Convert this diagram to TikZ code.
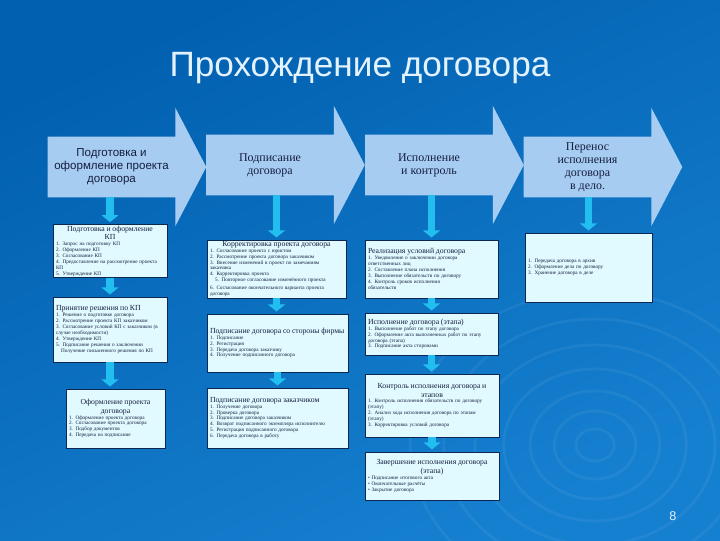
\documentclass[tikz,border=0pt]{standalone}
\usepackage{fontspec}
\setmainfont{Liberation Serif}
\newfontfamily\arialfont{Liberation Sans}
\usetikzlibrary{arrows.meta, calc, backgrounds}
\definecolor{bgtop}{RGB}{2, 96, 176}
\definecolor{bgbottom}{RGB}{22, 128, 208}
\definecolor{chevfill}{RGB}{166, 204, 242}
\definecolor{boxfill}{RGB}{224, 250, 255}
\definecolor{boxline}{RGB}{12, 40, 82}
\definecolor{linkcyan}{RGB}{34, 190, 240}
\definecolor{textdark}{RGB}{22, 30, 62}
\definecolor{titlewhite}{RGB}{226, 242, 255}
\newlength\pxu
\setlength\pxu{0.025cm}
\newcommand{\boxhead}[1]{{\fontsize{5.5}{6.2}\selectfont #1\par}}
\newcommand{\boxheadc}[1]{{\fontsize{5.5}{6.2}\selectfont\centering #1\par}}

\begin{document}
\begin{tikzpicture}[x=0.025cm, y=-0.025cm,
    chev/.style={minimum width=127\pxu, minimum height=60\pxu, inner sep=0pt, align=center, text=textdark, font=\fontsize{8.5}{9.3}\selectfont},
    box/.style 2 args={draw=boxline, fill=boxfill, line width=0.6pt, inner xsep=3\pxu, inner ysep=1\pxu, text width=#1\pxu, minimum height=#2\pxu, align=left, text=textdark, font=\fontsize{3.7}{4.2}\selectfont},
    link/.style={draw=linkcyan, line width=5.5pt, -{Triangle[width=12pt,length=5pt]}, shorten >=1.5pt},
    ripple/.style={draw=white, opacity=0.055, line width=2pt}
]
\useasboundingbox (0,0) rectangle (720,540);
\begin{scope}[on background layer]
  \shade[top color=bgtop, bottom color=bgbottom, shading angle=25] (0,0) rectangle (720,540);
  \foreach \r in {16,34,54,76,100,126,154}
    \draw[ripple] (595,445) ellipse ({1.2*\r} and \r);
\end{scope}

\node (TITLE) at (360,68) [font=\arialfont\fontsize{25}{30}\selectfont, text=titlewhite] {Прохождение договора};

% stages
\node (CH1) at (111.5,167) [chev, font=\arialfont\fontsize{8.2}{9.3}\selectfont] {Подготовка и\\оформление проекта\\договора};
\node (CH2) at (270,165) [chev] {Подписание\\договора};
\node (CH3) at (429,165) [chev] {Исполнение\\и контроль};
\node (CH4) at (587.5,167) [chev] {Перенос\\исполнения\\договора\\в дело.};
\begin{scope}[on background layer]
  \foreach \c in {CH1,CH2,CH3,CH4}
    \fill[chevfill] (\c.north west) -- (\c.north east) -- ++(0,-29) -- ($(\c.east)+(31,0)$) -- ($(\c.south east)+(0,29)$) -- (\c.south east) -- (\c.south west) -- cycle;
\end{scope}

% column 1
\node (A1) at (110,251) [box={108}{52}] {\boxheadc{Подготовка и оформление\\КП}
1. Запрос на подготовку КП\\
2. Оформление КП\\
3. Согласование КП\\
4. Предоставление на рассмотрение проекта\\
КП\\
5. Утверждение КП};
\node (A2) at (110,329.5) [box={108}{65}] {\boxhead{Принятие решения по КП}
1. Решение о подготовке договора\\
2. Рассмотрение проекта КП заказчиком\\
3. Согласование условий КП с заказчиком (в\\
случае необходимости)\\
4. Утверждение КП\\
5. Подписание решения о заключении\\
\hspace*{1em}Получение письменного решения по КП};
\node (A3) at (115.5,418.5) [box={93}{59}] {\boxheadc{Оформление проекта\\договора}
1. Оформление проекта договора\\
2. Согласование проекта договора\\
3. Подбор документов\\
4. Передача на подписание};

% column 2
\node (B1) at (276.5,269) [box={133}{58}] {\boxheadc{Корректировка проекта договора}
1. Согласование проекта с юристом\\
2. Рассмотрение проекта договора заказчиком\\
3. Внесение изменений в проект по замечаниям\\
заказчика\\
4. Корректировка проекта\\
\hspace*{1em}5. Повторное согласование изменённого проекта\\[1.5pt]
6. Согласование окончательного варианта проекта договора};
\node (B2) at (277.5,343) [box={135}{58}] {\boxhead{Подписание договора со стороны фирмы}
1. Подписание\\
2. Регистрация\\
3. Передача договора заказчику\\
4. Получение подписанного договора};
\node (B3) at (277.5,418) [box={135}{60}] {\boxhead{Подписание договора заказчиком}
1. Получение договора\\
2. Проверка договора\\
3. Подписание договора заказчиком\\
4. Возврат подписанного экземпляра исполнителю\\
5. Регистрация подписанного договора\\
6. Передача договора в работу};

% column 3
\node (C1) at (431.5,269) [box={127}{58}] {\boxhead{Реализация условий договора}
1. Уведомление о заключении договора\\
ответственных лиц\\
2. Составление плана исполнения\\
3. Выполнение обязательств по договору\\
4. Контроль сроков исполнения\\
обязательств};
\node (C2) at (431.5,334) [box={127}{42}] {\boxhead{Исполнение договора (этапа)}
1. Выполнение работ по этапу договора\\
2. Оформление акта выполненных работ по этапу\\
договора (этапа)\\
3. Подписание акта сторонами};
\node (C3) at (432,405.5) [box={128}{63}] {\boxheadc{Контроль исполнения договора и\\этапов}
1. Контроль исполнения обязательств по договору\\
(этапу)\\
2. Анализ хода исполнения договора по этапам\\
(этапу)\\
3. Корректировка условий договора};
\node (C4) at (432,476) [box={128}{48}] {\boxheadc{Завершение исполнения договора\\(этапа)}
\textbullet\ Подписание итогового акта\\
\textbullet\ Окончательные расчёты\\
\textbullet\ Закрытие договора};

% column 4
\node (D1) at (588.5,267.5) [box={121}{69}] {1. Передача договора в архив\\
2. Оформление дела по договору\\
3. Хранение договора в деле};

\draw [link] (A1.north |- CH1.south) -- (A1.north);
\draw [link] (B1.north |- CH2.south) -- (B1.north);
\draw [link] (C1.north |- CH3.south) -- (C1.north);
\draw [link] (D1.north |- CH4.south) -- (D1.north);
\draw [link] (A1.south) -- (A1.south |- A2.north);
\draw [link] (A2.south) -- (A2.south |- A3.north);
\draw [link] (B1.south) -- (B1.south |- B2.north);
\draw [link] (B2.south) -- (B2.south |- B3.north);
\draw [link] (C1.south) -- (C1.south |- C2.north);
\draw [link] (C2.south) -- (C2.south |- C3.north);
\draw [link] (C3.south) -- (C3.south |- C4.north);

\node (PAGENO) at (673,516) [font=\arialfont\fontsize{9}{10}\selectfont, text=titlewhite] {8};
\end{tikzpicture}
\end{document}
